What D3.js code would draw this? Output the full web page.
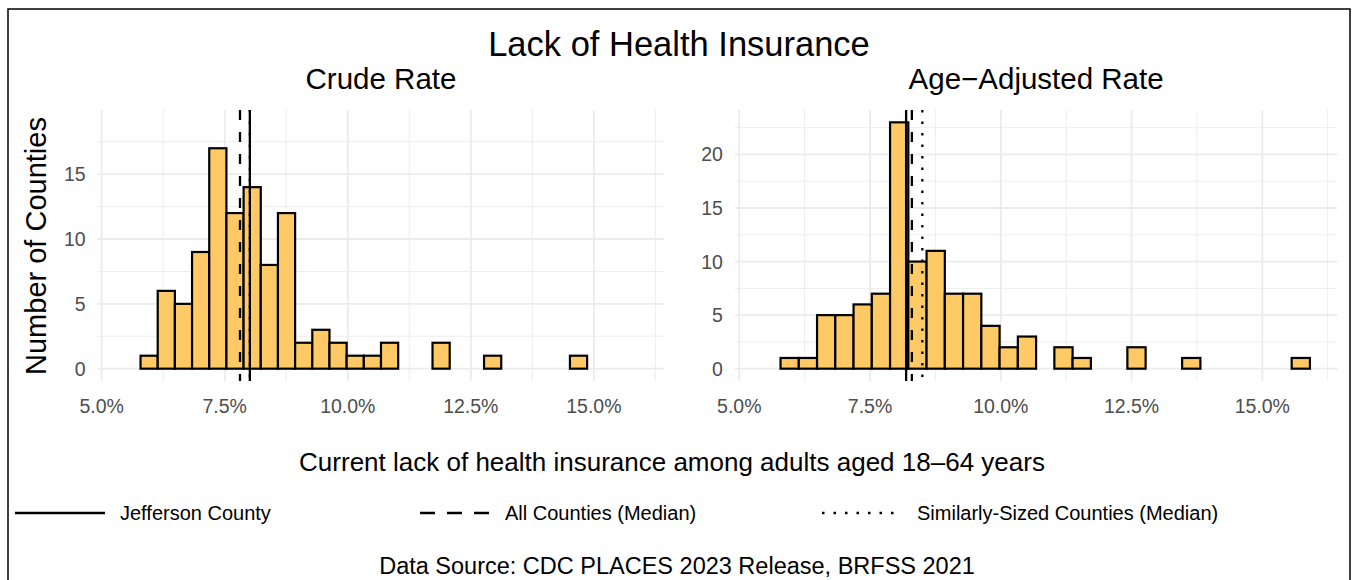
<!DOCTYPE html>
<html lang="en">
  <head>
    <meta charset="utf-8" />
    <title>Lack of Health Insurance</title>
    <script src="https://cdn.jsdelivr.net/npm/d3@7"></script>
    <style>
      body { margin: 0; background: #fff; }
      text { font-family: "Liberation Sans", Arial, sans-serif; }
    </style>
  </head>
  <body>
    <script>
      /*************************** Data ***************************/

      // histogram bins (percent), 30 bins shared by both panels
      var binStart = 5.44;
      var binWidth = 0.349;
      var crudeCounts = [0, 1, 6, 5, 9, 17, 12, 14, 8, 12, 2, 3, 2, 1, 1, 2, 0, 0, 2, 0, 0, 1, 0, 0, 0, 0, 1, 0, 0, 0];
      var ageAdjCounts = [0, 1, 1, 5, 5, 6, 7, 23, 10, 11, 7, 7, 4, 2, 3, 0, 2, 1, 0, 0, 2, 0, 0, 1, 0, 0, 0, 0, 0, 1];

      var panelTitles = ["Crude Rate", "Age\u2212Adjusted Rate"];
      var jeffersonValues = [8.01, 8.19];
      var allMedianValues = [7.81, 8.30];
      var similarMedianValues = [8.01, 8.50];
      var yMaxValues = [19, 23];

      var xTicks = [5, 7.5, 10, 12.5, 15];
      var yTicks = [[0, 5, 10, 15], [0, 5, 10, 15, 20]];

      var legendLabels = ["Jefferson County", "All Counties (Median)", "Similarly-Sized Counties (Median)"];

      /*************************** Canvas ***************************/

      var W = 1354, H = 580;
      var svg = d3.select("body").append("svg").attr("width", W).attr("height", H);

      svg.append("rect").attr("width", W).attr("height", H).attr("fill", "#fff");
      svg.append("rect")
        .attr("x", 8).attr("y", 9).attr("width", 1342).attr("height", 620)
        .attr("fill", "none").attr("stroke", "#000").attr("stroke-width", 1.5);

      svg.append("text").attr("x", 679).attr("y", 56).attr("text-anchor", "middle")
        .attr("font-size", 34.5).text("Lack of Health Insurance");

      var panels = [
        { x0: 97.6, x1: 664.4, counts: crudeCounts },
        { x0: 734.9, x1: 1337.3, counts: ageAdjCounts }
      ];
      var panelTop = 110, panelBottom = 381;

      var bins = d3.range(30).map(function (i) { return binStart + i * binWidth; });
      var lo = binStart, hi = binStart + 30 * binWidth;
      var pad = 0.05 * (hi - lo);

      var fmt = function (d) { return d3.format(".1f")(d) + "%"; };

      panels.forEach(function (p, k) {
        var x = d3.scaleLinear().domain([lo - pad, hi + pad]).range([p.x0, p.x1]);
        var yMax = yMaxValues[k];
        var y = d3.scaleLinear().domain([-0.05 * yMax, yMax * 1.05]).range([panelBottom, panelTop]);
        var g = svg.append("g");

        // grid
        var xMinor = xTicks.map(function (d) { return d + 1.25; });
        var yMinor = yTicks[k].map(function (d) { return d + 2.5; }).filter(function (d) { return d < yMax * 1.05; });
        g.selectAll(".vminor").data(xMinor).enter().append("line")
          .attr("x1", x).attr("x2", x).attr("y1", panelTop).attr("y2", panelBottom)
          .attr("stroke", "#EBEBEB").attr("stroke-width", 0.9);
        g.selectAll(".hminor").data(yMinor).enter().append("line")
          .attr("x1", p.x0).attr("x2", p.x1).attr("y1", y).attr("y2", y)
          .attr("stroke", "#EBEBEB").attr("stroke-width", 0.9);
        g.selectAll(".vmajor").data(xTicks).enter().append("line")
          .attr("x1", x).attr("x2", x).attr("y1", panelTop).attr("y2", panelBottom)
          .attr("stroke", "#EBEBEB").attr("stroke-width", 1.8);
        g.selectAll(".hmajor").data(yTicks[k]).enter().append("line")
          .attr("x1", p.x0).attr("x2", p.x1).attr("y1", y).attr("y2", y)
          .attr("stroke", "#EBEBEB").attr("stroke-width", 1.8);

        // bars
        g.selectAll(".bar").data(p.counts).enter().append("rect")
          .attr("x", function (d, i) { return x(bins[i]); })
          .attr("width", function (d, i) { return x(bins[i] + binWidth) - x(bins[i]); })
          .attr("y", function (d) { return y(d); })
          .attr("height", function (d) { return y(0) - y(d); })
          .attr("fill", "#FFC966").attr("stroke", "#000").attr("stroke-width", 2.2);

        // reference lines
        var refs = [
          { v: similarMedianValues[k], dash: "2.5,9" },
          { v: allMedianValues[k], dash: "10,12" },
          { v: jeffersonValues[k], dash: null }
        ];
        refs.forEach(function (r) {
          g.append("line")
            .attr("x1", x(r.v)).attr("x2", x(r.v)).attr("y1", panelTop).attr("y2", panelBottom)
            .attr("stroke", "#000").attr("stroke-width", 2.3)
            .attr("stroke-dasharray", r.dash);
        });

        // axes labels
        g.selectAll(".xl").data(xTicks).enter().append("text")
          .attr("x", x).attr("y", 413).attr("text-anchor", "middle")
          .attr("font-size", 19.5).attr("fill", "#4D4D4D").text(fmt);
        g.selectAll(".yl").data(yTicks[k]).enter().append("text")
          .attr("x", p.x0 - 12).attr("y", function (d) { return y(d) + 7; })
          .attr("text-anchor", "end").attr("font-size", 19.5).attr("fill", "#4D4D4D").text(function (d) { return d; });

        svg.append("text").attr("x", (p.x0 + p.x1) / 2).attr("y", 89).attr("text-anchor", "middle")
          .attr("font-size", 29.5).text(panelTitles[k]);
      });

      svg.append("text").attr("transform", "translate(46,246) rotate(-90)")
        .attr("text-anchor", "middle").attr("font-size", 29).text("Number of Counties");

      svg.append("text").attr("x", 672).attr("y", 471).attr("text-anchor", "middle")
        .attr("font-size", 26).text("Current lack of health insurance among adults aged 18\u201364 years");

      /*************************** Legend ***************************/

      var legendKeys = [
        { x0: 15, x1: 105, tx: 120, dash: null },
        { x0: 420, x1: 495, tx: 505, dash: "15,12" },
        { x0: 822, x1: 900, tx: 917, dash: "2.5,9" }
      ];
      legendKeys.forEach(function (k, i) {
        svg.append("line").attr("x1", k.x0).attr("x2", k.x1).attr("y1", 513).attr("y2", 513)
          .attr("stroke", "#000").attr("stroke-width", 2.5).attr("stroke-dasharray", k.dash);
        svg.append("text").attr("x", k.tx).attr("y", 520).attr("font-size", 20).text(legendLabels[i]);
      });

      svg.append("text").attr("x", 677).attr("y", 574).attr("text-anchor", "middle")
        .attr("font-size", 23.5).text("Data Source: CDC PLACES 2023 Release, BRFSS 2021");
    </script>
  </body>
</html>
